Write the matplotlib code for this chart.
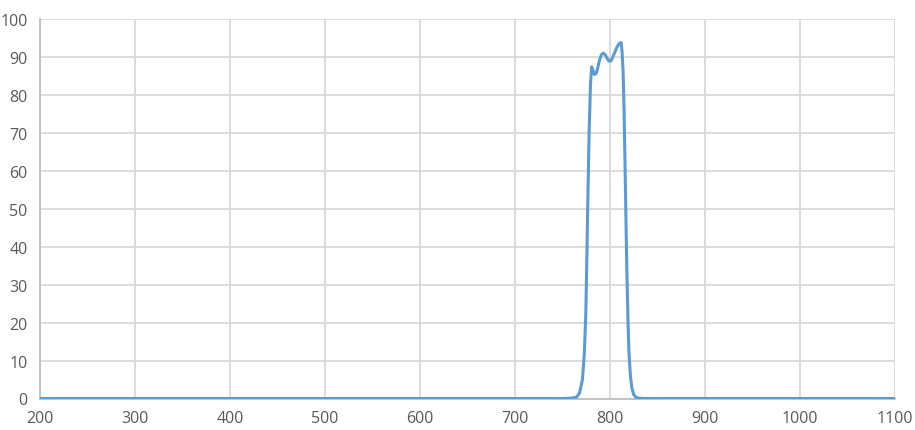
import matplotlib
matplotlib.use("Agg")
import matplotlib.pyplot as plt

wavelength = [200, 300, 400, 500, 600, 700, 750, 760, 765, 768, 771, 773, 774.5, 775.5, 776.5, 778, 779.5, 780.7,
              782, 783.5, 785.3, 787, 789, 791, 793, 795, 797, 799, 801, 803, 805, 807, 809, 811, 811.8,
              812.8, 813.8, 814.8, 815.8, 816.8, 817.8, 819, 820, 821.5, 823, 825, 827, 830, 835, 850,
              900, 1000, 1100]
transmission = [0, 0, 0, 0, 0, 0, 0, 0.1, 0.4, 1.5, 5, 12, 22, 35, 50, 70, 83, 87.4,
                86.5, 85.4, 85.6, 87, 89.2, 90.6, 91.0, 90.6, 89.6, 88.9, 89.0, 90.0, 91.2, 92.4, 93.3, 93.8, 93.7,
                91, 86, 76, 62, 47, 33, 20, 12, 6, 2.8, 1.0, 0.4, 0.1, 0, 0,
                0, 0, 0]

x_ticks = [200, 300, 400, 500, 600, 700, 800, 900, 1000, 1100]
y_ticks = [0, 10, 20, 30, 40, 50, 60, 70, 80, 90, 100]

plt.rcParams['font.family'] = ['Open Sans', 'DejaVu Sans']
fig = plt.figure(figsize=(9.15, 4.31), dpi=100)
ax = fig.add_axes([40/915, 31.5/431, 855/915, 379.5/431])

ax.plot(wavelength, transmission, color='#5B9BD5', linewidth=2.2, solid_joinstyle='round', zorder=3)

ax.set_xlim(200, 1100)
ax.set_ylim(0, 100)
ax.set_xticks(x_ticks)
ax.set_yticks(y_ticks)
ax.grid(True, color='#D9D9D9', linewidth=1.3)
ax.set_axisbelow(True)
for s in ['top', 'right']:
    ax.spines[s].set_visible(False)
for s in ['left', 'bottom']:
    ax.spines[s].set_color('#BFBFBF')
    ax.spines[s].set_linewidth(1.3)
ax.tick_params(length=0, colors='#595959', labelsize=11.5)
ax.tick_params(axis='y', pad=9)
ax.tick_params(axis='x', pad=8)
ax.spines['left'].set_zorder(2)

fig.savefig('out.png', dpi=100)
